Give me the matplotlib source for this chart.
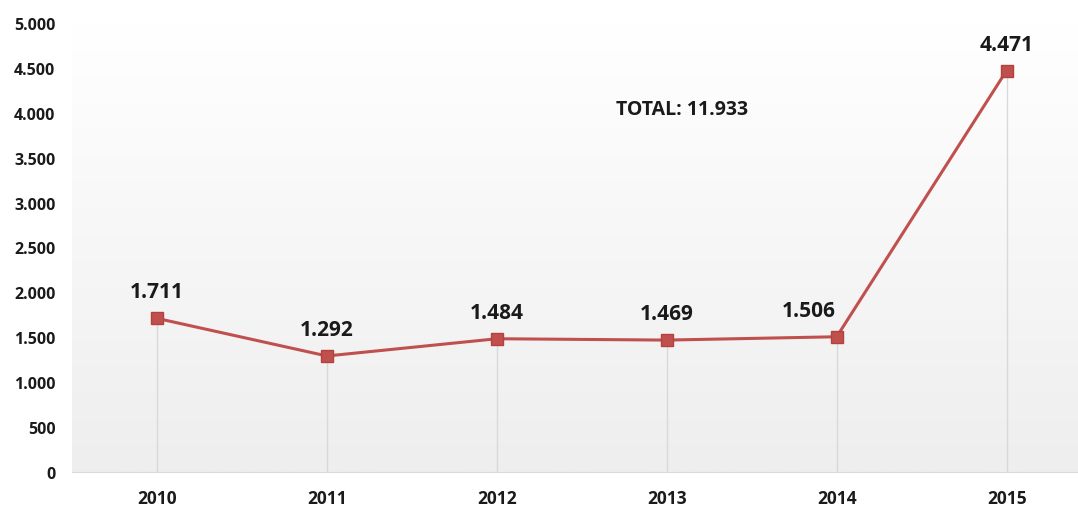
import matplotlib.pyplot as plt
import numpy as np
from matplotlib.colors import LinearSegmentedColormap
from matplotlib.ticker import FuncFormatter

years = ['2010', '2011', '2012', '2013', '2014', '2015']
values = [1711, 1292, 1484, 1469, 1506, 4471]
labels = ['1.711', '1.292', '1.484', '1.469', '1.506', '4.471']
total_text = 'TOTAL: 11.933'

plt.rcParams['font.family'] = ['Open Sans', 'DejaVu Sans']

fig = plt.figure(figsize=(10.78, 5.10), dpi=100)
ax = fig.add_axes([72 / 1078, 37 / 510, 1006 / 1078, 449 / 510])

# background gradient: white at top, light grey at bottom
cmap = LinearSegmentedColormap.from_list('bg', ['#ffffff', '#eeeeee'])
grad = np.linspace(0, 1, 256).reshape(-1, 1)
ax.imshow(grad, aspect='auto', cmap=cmap, extent=[0, 1, 0, 1],
          transform=ax.transAxes, zorder=0, origin='upper')

x = np.arange(len(years))
ax.vlines(x, 0, values, color='#d9d9d9', linewidth=1, zorder=1)
ax.plot(x, values, color='#c0504d', linewidth=2.2, marker='s',
        markersize=8, markerfacecolor='#c0504d', markeredgecolor='#b5413e', zorder=3)

offsets = [0, 0, 0, 0, -20, 0]
for xi, v, lab, dx in zip(x, values, labels, offsets):
    ax.annotate(lab, (xi, v), xytext=(dx, 19), textcoords='offset points',
                ha='center', va='center', fontsize=15, fontweight='bold', color='#1a1a1a')

ax.text(3.09, 4040, total_text, ha='center', va='center', fontsize=14,
        fontweight='bold', color='#1a1a1a')

ax.set_xlim(-0.5, 5.42)
ax.set_ylim(0, 5000)
ax.set_yticks(np.arange(0, 5001, 500))
ax.yaxis.set_major_formatter(FuncFormatter(lambda v, p: f'{int(v):,}'.replace(',', '.')))
ax.set_xticks(x)
ax.set_xticklabels(years)
ax.tick_params(axis='y', length=0, pad=12, labelsize=11.5)
ax.tick_params(axis='x', length=0, pad=12, labelsize=12.5)
for lab in ax.get_xticklabels() + ax.get_yticklabels():
    lab.set_fontweight('bold')
    lab.set_color('#1a1a1a')

for s in ['top', 'right', 'left']:
    ax.spines[s].set_visible(False)
ax.spines['bottom'].set_color('#d9d9d9')

fig.savefig('out.png', dpi=100)
